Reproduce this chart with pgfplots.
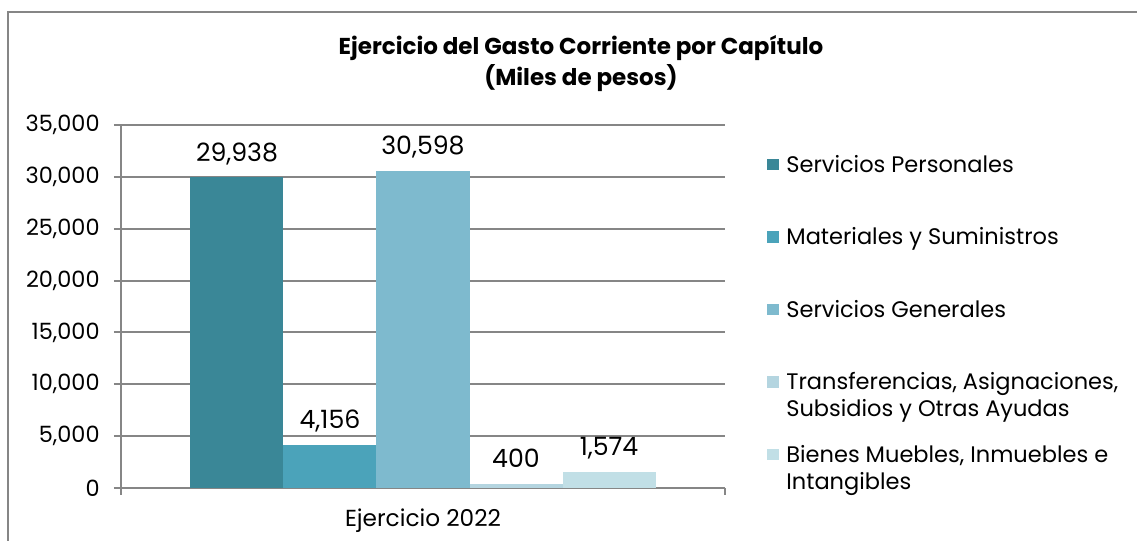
\documentclass[border=0pt]{standalone}
\usepackage{fontspec}
\setmainfont{Poppins}
\usepackage{pgfplots}
\pgfplotsset{compat=1.18}
\definecolor{c1}{RGB}{58,135,151}
\definecolor{c2}{RGB}{75,163,186}
\definecolor{c3}{RGB}{126,186,206}
\definecolor{c4}{RGB}{180,213,224}
\definecolor{c5}{RGB}{193,223,230}
\definecolor{gridgray}{RGB}{134,134,134}
\begin{document}
\begin{tikzpicture}
\useasboundingbox (0,0) rectangle (568.5pt,270.5pt);
\draw[gridgray, line width=1pt] (4pt,-5pt) -- (4pt,264.5pt) -- (580pt,264.5pt);
\node[font=\bfseries\fontsize{11.5pt}{12pt}\selectfont] at (290.5pt,246.5pt) {Ejercicio del Gasto Corriente por Capítulo};
\node[font=\bfseries\fontsize{11.5pt}{12pt}\selectfont] at (290.5pt,231.5pt) {(Miles de pesos)};
\begin{axis}[
  at={(60.5pt,26.5pt)}, anchor=south west,
  scale only axis, width=302pt, height=181.5pt,
  ybar=0pt, bar width=46.5pt,
  xmin=0, xmax=2, ymin=0, ymax=35000,
  axis x line*=bottom, axis y line*=left,
  axis line style={gridgray, line width=1pt},
  ymajorgrids, grid style={gridgray, line width=1pt},
  ytick={0,5000,...,35000},
  major tick length=3.5pt, tick align=outside,
  tick style={gridgray, line width=1pt},
  xtick={0,2}, xticklabels={,},
  extra x ticks={1}, extra x tick labels={Ejercicio 2022},
  extra x tick style={major tick length=0pt, grid=none,
    xticklabel style={font=\fontsize{11.6pt}{13pt}\selectfont, yshift=-7pt}},
  scaled y ticks=false,
  /pgf/number format/1000 sep={,},
  /pgf/number format/assume math mode=true,
  yticklabel style={font=\fontsize{11.2pt}{12pt}\selectfont, inner sep=0pt, xshift=-7pt},
  nodes near coords,
  nodes near coords style={font=\fontsize{12.6pt}{13pt}\selectfont, anchor=base, yshift=8.2pt, inner sep=0pt, text=black},
  legend image code/.code={\fill[#1, draw=none] (0pt,1.05pt) rectangle (5.75pt,6.8pt);},
  legend style={at={(1.0695,0.926)}, anchor=north west, draw=none, fill=none, inner sep=0pt,
    row sep=9.25pt, column sep=3.75pt,
    font=\fontsize{11.25pt}{13.5pt}\selectfont,
    nodes={anchor=base west, text height=10pt, text depth=17pt, inner sep=0pt}},
]
\addplot[fill=c1, draw=none] coordinates {(1,29938)};
\addplot[fill=c2, draw=none] coordinates {(1,4156)};
\addplot[fill=c3, draw=none] coordinates {(1,30598)};
\addplot[fill=c4, draw=none] coordinates {(1,400)};
\addplot[fill=c5, draw=none] coordinates {(1,1574)};
\legend{Servicios Personales, Materiales y Suministros, Servicios Generales, {\vtop{\hbox{Transferencias, Asignaciones,}\hbox{Subsidios y Otras Ayudas}}}, {\vtop{\hbox{Bienes Muebles, Inmuebles e}\hbox{Intangibles}}}}
\end{axis}
\end{tikzpicture}
\end{document}
